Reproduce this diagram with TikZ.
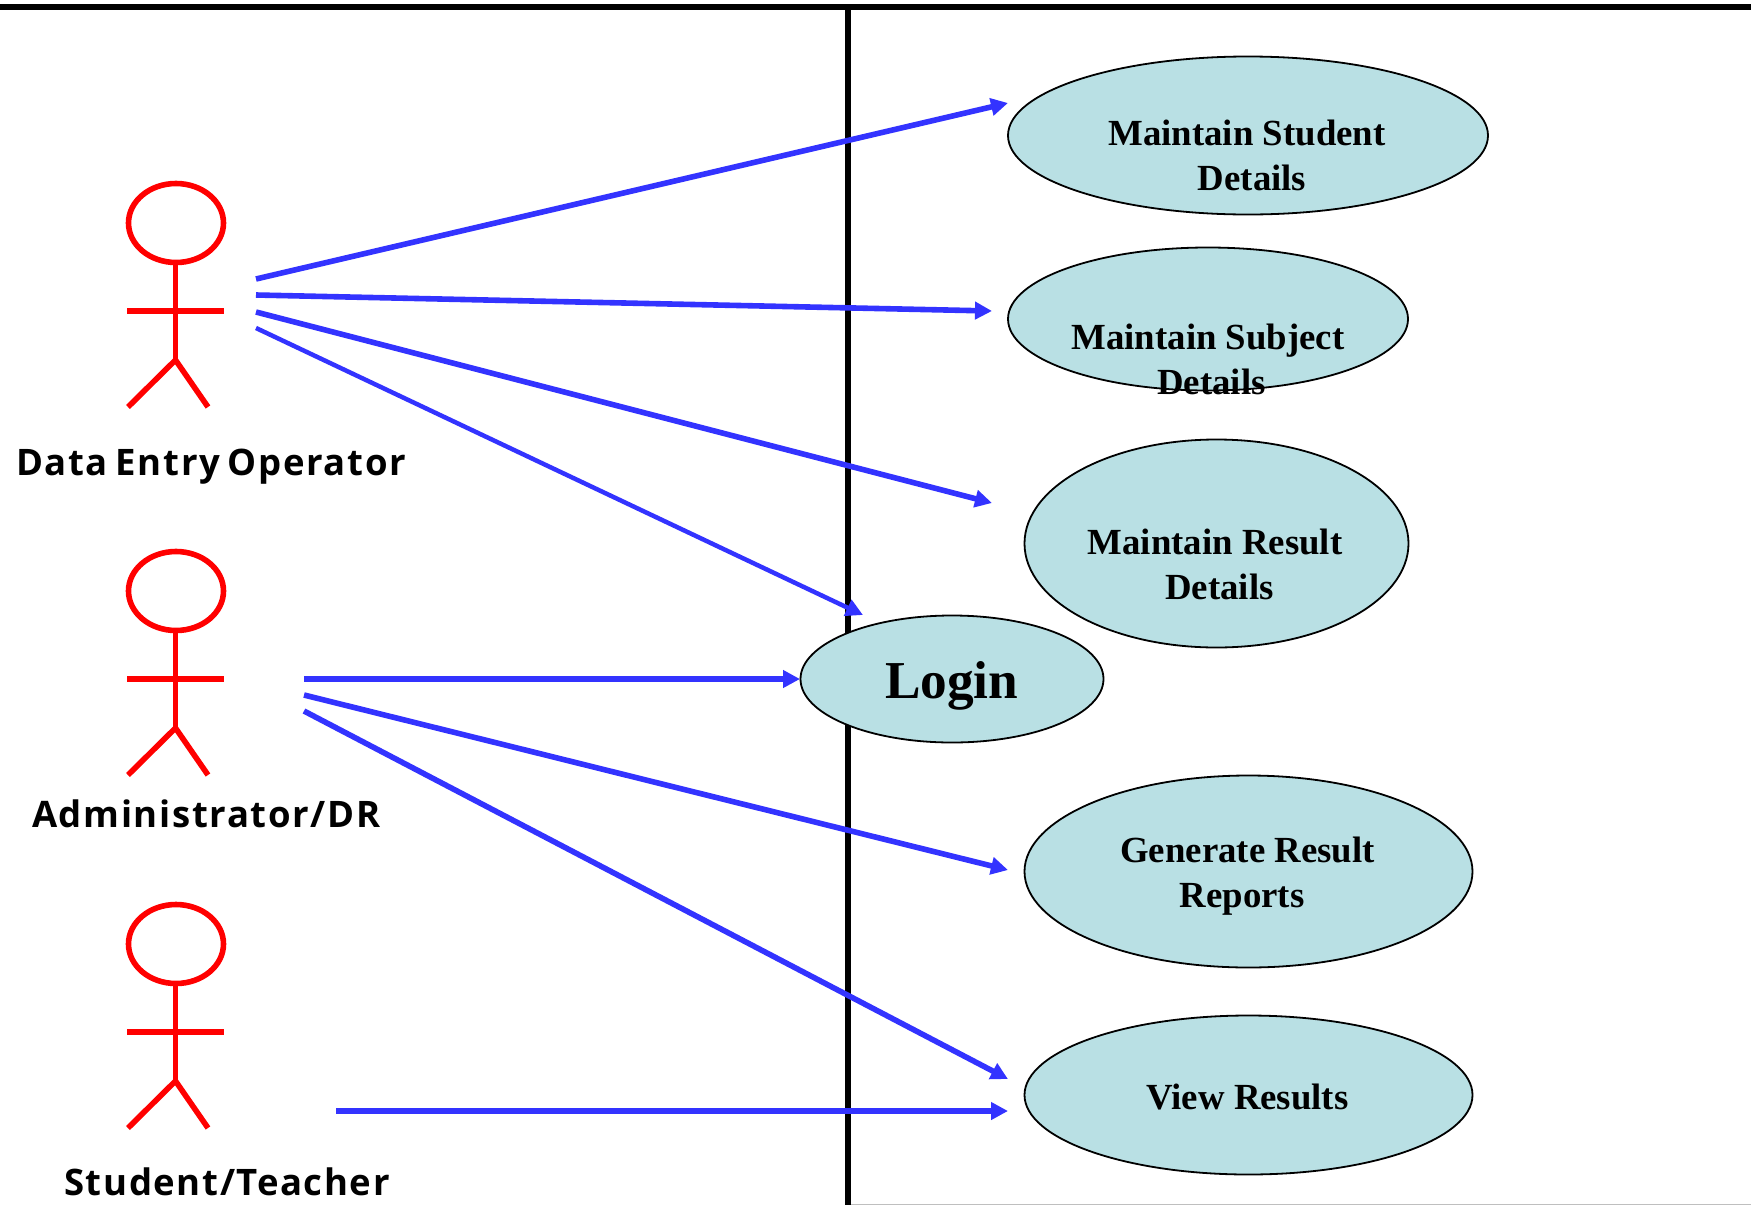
\documentclass[tikz,border=0pt]{standalone}
\usepackage{fontspec}
\usetikzlibrary{arrows.meta,shapes.geometric}
\setmainfont{Liberation Serif}
\newfontfamily\actorfont[LetterSpace=4.5,WordSpace=0.7]{Open Sans}
\definecolor{ucfill}{HTML}{B9E0E4}
\definecolor{flow}{HTML}{3333FF}
\definecolor{actorred}{HTML}{FF0000}
\tikzset{
  x=1pt,y=-1pt,
  usecase/.style={draw=black,line width=1.8pt,fill=ucfill,ellipse,inner sep=0pt,outer sep=0pt},
  uctext/.style={anchor=base,align=center,inner sep=0pt,font=\fontsize{36.8}{44.7}\selectfont\bfseries},
  logintext/.style={anchor=base,inner sep=0pt,font=\fontsize{53.3}{60}\selectfont\bfseries},
  actorlabel/.style={anchor=base west,inner sep=0pt,font=\fontsize{36.5}{40}\selectfont\actorfont\bfseries},
  flowline/.style={draw=flow,line width=5.6pt,-{Triangle[length=17pt,width=17pt]}},
  actorline/.style={draw=actorred,line width=5.6pt},
  frameline/.style={draw=black,line width=5.5pt},
  actor/.pic={
    \draw[actorline] (0,-88) ellipse [x radius=47.5,y radius=39.5];
    \draw[actorline] (-0.5,-48) -- (-0.5,49);
    \draw[actorline,line width=6pt] (-49,0) -- (48,0);
    \draw[actorline] (-48,96) -- (-0.5,49) -- (32,96);
  }
}
\begin{document}
\begin{tikzpicture}
\useasboundingbox (0,0) rectangle (1751,1205);
\fill[white] (0,0) rectangle (1751,1205);
% frame
\coordinate (topL) at (0,7);
\coordinate (topR) at (1751,7);
\coordinate (vTop) at (848,4);
\coordinate (vBot) at (848,1205);
\coordinate (botR) at (1751,1204.5);
\draw[draw=black!25,line width=1pt] (vBot |- botR) -- (botR);
\draw[frameline,line width=6pt] (topL) -- (topR);
\draw[frameline] (vTop) -- (vBot);
% actors
\pic at (176,311) {actor};
\pic at (176,679) {actor};
\pic at (176,1032) {actor};
\node[actorlabel] (lblOperator) at (16,475) {Data Entry Operator};
\node[actorlabel] (lblAdmin) at (32,827) {Administrator/DR};
\node[actorlabel] (lblStudent) at (64,1195) {Student/Teacher};
% connector ends
\coordinate (op1) at (256,279);
\coordinate (op2) at (256,295);
\coordinate (op3) at (256,312);
\coordinate (op4) at (256,328);
\coordinate (ad1) at (304,679);
\coordinate (ad2) at (304,695);
\coordinate (ad3) at (304,711);
\coordinate (st1) at (336,1111);
\coordinate (toStudent) at (1008,103);
\coordinate (toSubject) at (992,311);
\coordinate (toResult) at (992,503);
\coordinate (toLoginTop) at (863,615);
\coordinate (toLoginLeft) at (800,679);
\coordinate (toReports) at (1008,870);
\coordinate (toViewA) at (1008,1079);
\coordinate (toViewB) at (1008,1111);
% connectors
\draw[flowline] (op1) -- (toStudent);
\draw[flowline] (op2) -- (toSubject);
\draw[flowline] (op3) -- (toResult);
\draw[flowline,line width=4.5pt] (op4) -- (toLoginTop);
\draw[flowline] (ad1) -- (toLoginLeft);
\draw[flowline] (ad2) -- (toReports);
\draw[flowline] (ad3) -- (toViewA);
\draw[flowline] (st1) -- (toViewB);
% use cases
\node[usecase,minimum width=480pt,minimum height=158pt] (ucStudent) at (1248,135.5) {};
\node[usecase,minimum width=400pt,minimum height=143pt] (ucSubject) at (1208,319) {};
\node[usecase,minimum width=384pt,minimum height=208pt] (ucResult) at (1216.5,543.5) {};
\node[usecase,minimum width=303pt,minimum height=127pt] (ucLogin) at (952,679) {};
\node[usecase,minimum width=448pt,minimum height=192pt] (ucReports) at (1248.5,871.5) {};
\node[usecase,minimum width=448pt,minimum height=159pt] (ucView) at (1248.5,1095) {};
\node[uctext] (tStudent) at (1247,190) {Maintain Student\\\hspace*{10pt}Details};
\node[uctext] (tSubject) at (1208,394) {Maintain Subject\\\hspace*{7pt}Details};
\node[uctext] (tResult) at (1215,599.5) {Maintain Result\\\hspace*{9pt}Details};
\node[logintext] (tLogin) at (951.7,698) {Login};
\node[uctext] (tReports) at (1247.5,907) {Generate Result\\Reports\hspace*{11pt}};
\node[uctext] (tView) at (1247.5,1109) {View Results};
\end{tikzpicture}
\end{document}
